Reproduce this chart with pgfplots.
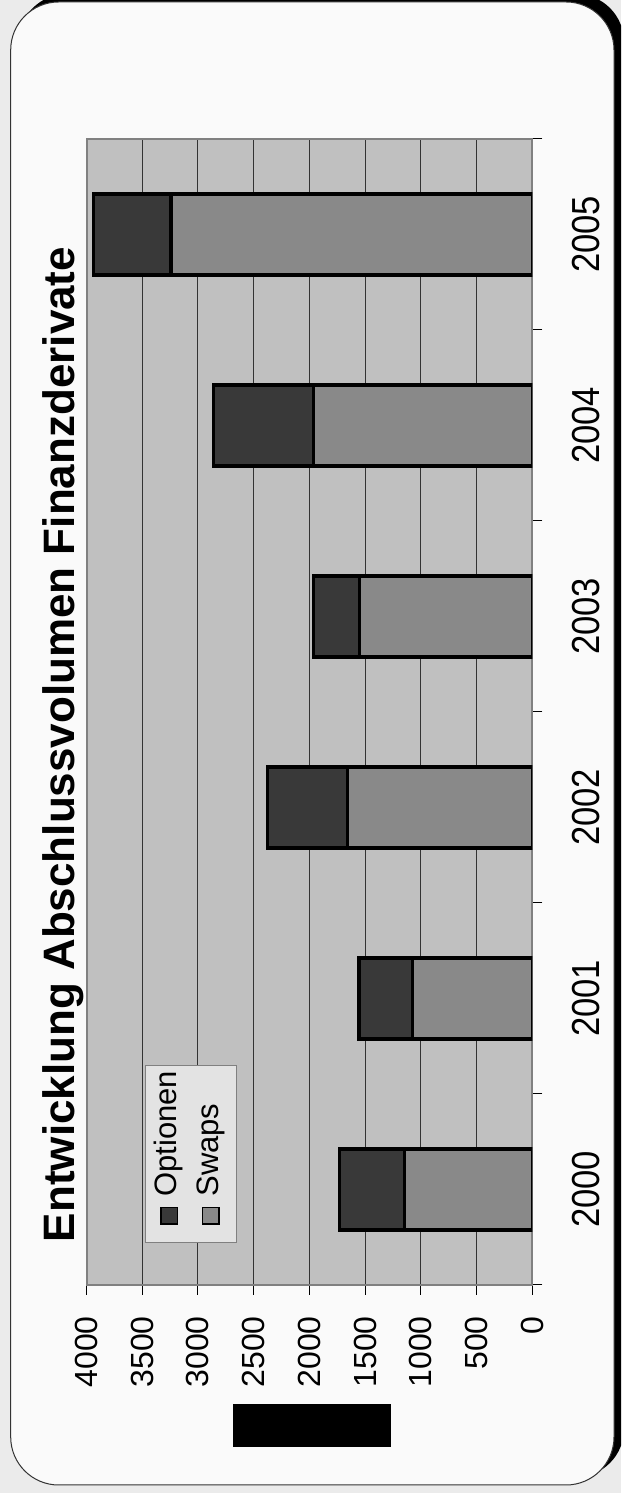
\documentclass[border=0pt]{standalone}
\usepackage{pgfplots}
\usepackage{pgfplotstable}
\pgfplotsset{compat=1.18}
\usepackage{graphicx}
\usepackage{fontspec}
\setmainfont{Liberation Sans}

\definecolor{outerbg}{HTML}{EBEBEB}
\definecolor{panel}{HTML}{FAFAFA}
\definecolor{plotbg}{HTML}{C0C0C0}
\definecolor{optionen}{HTML}{393939}
\definecolor{swaps}{HTML}{898989}
\definecolor{legbg}{HTML}{E3E3E3}
\definecolor{border}{HTML}{808080}

% Abschlussvolumen je Jahr (idx 0 = 2000 ... 5 = 2005)
\pgfplotstableread{
idx swaps optionen
0 1144 586
1 1072 483
2 1658 718
3 1553 410
4 1963 898
5 3241 693
}\volumen

% small framed colour square for the key
\newcommand{\keybox}[1]{{\setlength{\fboxrule}{0.75pt}\setlength{\fboxsep}{0pt}%
  \fcolorbox{black}{#1}{\rule{0pt}{7.5pt}\rule{7.5pt}{0pt}}}}

\begin{document}
\begin{tikzpicture}
\useasboundingbox (0,0) rectangle (310.5pt,746.5pt);
\clip (0,0) rectangle (310.5pt,746.5pt);

% panel with drop shadow; units of 0.5pt, y counted from the top edge
\begin{scope}[x=0.5pt,y=-0.5pt,yshift=746.5pt]
  \fill[outerbg] (0,0) rectangle (621,1493);
  \fill[black, rounded corners=24pt] (18.7,-6) rectangle (624,1477);
  \filldraw[fill=panel, draw=black!80, line width=0.5pt, rounded corners=24pt]
    (10.7,2) rectangle (614,1485);
\end{scope}

\begin{axis}[
  at={(154.7pt,390.5pt)}, anchor=center,
  scale only axis, width=222.9pt, height=573pt,
  xbar stacked, bar width=0.424,
  x dir=reverse,
  xmin=0, xmax=4000, ymin=-0.5, ymax=5.5,
  xtick={0,500,...,4000},
  ytick={-0.5,0.5,...,5.5},
  yticklabels={\scalebox{1}[1.13]{2000},\scalebox{1}[1.13]{2001},\scalebox{1}[1.13]{2002},
               \scalebox{1}[1.13]{2003},\scalebox{1}[1.13]{2004},\scalebox{1}[1.13]{2005}},
  y tick label as interval,
  xtick pos=left, ytick pos=right,
  axis background/.style={fill=plotbg},
  axis line style={draw=border, line width=1pt},
  xmajorgrids, major grid style={draw=black!80, line width=0.5pt},
  tick align=outside, major tick length=5pt,
  tick style={black, line width=0.5pt},
  /pgf/number format/assume math mode=true,
  /pgf/number format/1000 sep={},
  xticklabel shift=10.5pt,
  yticklabel shift=15pt,
  xticklabel style={font=\fontsize{16pt}{16pt}\selectfont, rotate=90, anchor=east, inner sep=0pt},
  yticklabel style={font=\fontsize{17.3pt}{17.3pt}\selectfont, rotate=90, anchor=north, inner sep=0pt},
]
\addplot[fill=swaps, draw=black, line width=1.6pt] table[x=swaps, y=idx] {\volumen};
\addplot[fill=optionen, draw=black, line width=1.6pt] table[x=optionen, y=idx] {\volumen};
\end{axis}

\begin{scope}[x=0.5pt,y=-0.5pt,yshift=746.5pt]
  % title
  \node[rotate=90, anchor=base, font=\fontsize{22pt}{22pt}\selectfont\bfseries]
    at (74,744.5) {Entwicklung Abschlussvolumen Finanzderivate};
  % key
  \filldraw[fill=legbg, draw=border, line width=0.5pt] (145,1066) rectangle (236.7,1243);
  \node[rotate=90, anchor=base west, inner sep=0pt, font=\fontsize{15.5pt}{15.5pt}\selectfont]
    at (176.7,1225) {\keybox{optionen}\hspace{5pt}Optionen};
  \node[rotate=90, anchor=base west, inner sep=0pt, font=\fontsize{15.5pt}{15.5pt}\selectfont]
    at (218,1225) {\keybox{swaps}\hspace{5pt}Swaps};
  % axis title block
  \fill[black] (232.7,1404) rectangle (390.7,1446.7);
\end{scope}
\end{tikzpicture}
\end{document}
